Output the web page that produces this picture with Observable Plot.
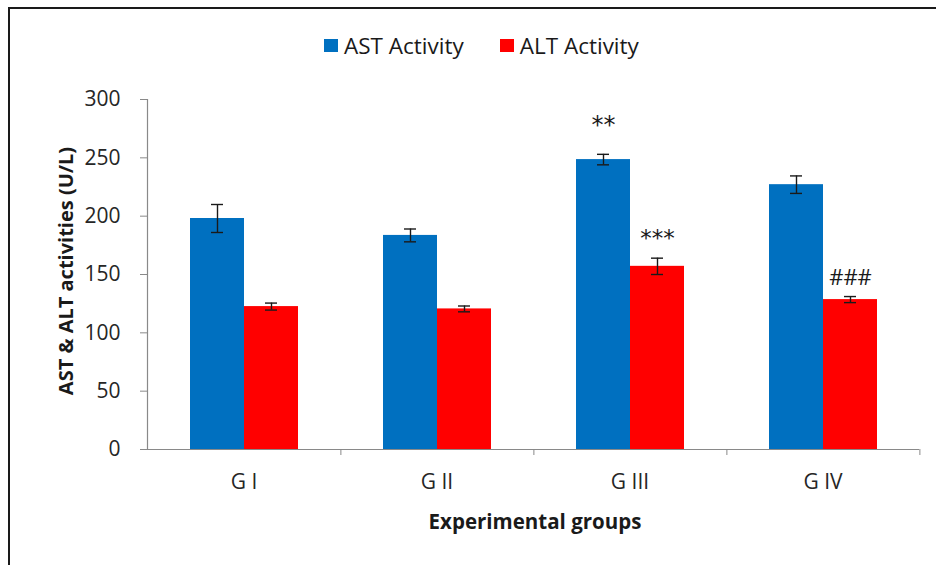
<!DOCTYPE html>
<html>
<head>
<meta charset="utf-8">
<script src="https://cdn.jsdelivr.net/npm/d3@7"></script>
<script src="https://cdn.jsdelivr.net/npm/@observablehq/plot@0.6"></script>
<style>
  html, body { margin: 0; padding: 0; background: #fff; }
  #wrap { position: relative; width: 936px; height: 565px; overflow: hidden; font-family: "Open Sans", sans-serif; }
  #border { position: absolute; left: 8px; top: 7px; width: 1000px; height: 1000px; border-left: 2px solid #1a1a1a; border-top: 2px solid #1a1a1a; box-sizing: border-box; }
  #legend { position: absolute; left: 324px; top: 30px; display: flex; align-items: center; font-size: 22.5px; color: #1a1a1a; white-space: nowrap; }
  .sw { display: inline-block; width: 14px; height: 13px; margin-right: 6px; }
  .item { display: flex; align-items: center; margin-right: 36px; }
  #ytitle { position: absolute; left: 65px; top: 271px; transform: translate(-50%, -50%) rotate(-90deg); font-weight: bold; font-size: 20px; color: #1a1a1a; white-space: nowrap; }
  #xtitle { position: absolute; left: 535px; top: 521px; transform: translate(-50%, -50%); font-weight: bold; font-size: 20.5px; color: #1a1a1a; white-space: nowrap; }
  #chart { position: absolute; left: 0; top: 0; }
</style>
</head>
<body>
<div id="wrap">
  <div id="chart"></div>
  <div id="border"></div>
  <div id="legend"></div>
  <div id="ytitle">AST &amp; ALT activities (U/L)</div>
  <div id="xtitle">Experimental groups</div>
</div>
<script>
const groups = ["G I", "G II", "G III", "G IV"];
const seriesNames = ["AST Activity", "ALT Activity"];
const seriesColors = ["#0070C0", "#FF0000"];
const astValues = [198, 183.5, 248.5, 227];
const astErrors = [12, 5.5, 4.5, 7.5];
const altValues = [122.5, 120.5, 157, 128.5];
const altErrors = [3, 2.5, 7, 2.6];
const yTicks = [0, 50, 100, 150, 200, 250, 300];
const annotGroups = ["G III", "G III", "G IV"];
const annotSeries = ["AST Activity", "ALT Activity", "ALT Activity"];
const annotTexts = ["**", "***", "###"];

const rows = groups.flatMap((g, i) => [
  {group: g, series: seriesNames[0], value: astValues[i], err: astErrors[i]},
  {group: g, series: seriesNames[1], value: altValues[i], err: altErrors[i]}
]);
const annots = annotTexts.map((t, i) => {
  const r = rows.find(d => d.group === annotGroups[i] && d.series === annotSeries[i]);
  return {group: r.group, series: r.series, top: r.value + r.err, text: t};
});
const isStar = d => d.text.startsWith("*");

const W = 936, H = 565, mL = 145, mR = 16, mT = 99, mB = 116;
const step = (W - mL - mR) / groups.length;
const axisGray = "#898989";

const chart = Plot.plot({
  width: W, height: H,
  marginLeft: mL, marginRight: mR, marginTop: mT, marginBottom: mB,
  style: {fontFamily: "'Open Sans', sans-serif", background: "transparent"},
  fx: {domain: groups, padding: 0, label: null},
  x: {domain: seriesNames, paddingInner: 0, paddingOuter: 0.78, axis: null},
  y: {domain: [0, 300], axis: null},
  color: {domain: seriesNames, range: seriesColors},
  marks: [
    Plot.barY(rows, {fx: "group", x: "series", y: "value", fill: "series"}),
    Plot.ruleY([0], {stroke: axisGray, strokeWidth: 1.2}),
    Plot.frame({anchor: "left", stroke: axisGray, strokeWidth: 1.2, facetAnchor: "left"}),
    Plot.axisY({ticks: yTicks, tickSize: 7, tickPadding: 20, fontSize: 21, stroke: axisGray, color: "#262626", label: null, facetAnchor: "left"}),
    Plot.axisFx({anchor: "bottom", tickSize: 0, tickPadding: 25, fontSize: 21, color: "#262626", label: null}),
    Plot.axisFx({anchor: "bottom", tickSize: 6, text: null, dx: step / 2, stroke: axisGray, label: null}),
    Plot.ruleX(rows, {fx: "group", x: "series", y1: d => d.value - d.err, y2: d => d.value + d.err, stroke: "#1a1a1a", strokeWidth: 1.4}),
    Plot.tickY(rows, {fx: "group", x: "series", y: d => d.value - d.err, stroke: "#1a1a1a", strokeWidth: 1.4, insetLeft: 21, insetRight: 21}),
    Plot.tickY(rows, {fx: "group", x: "series", y: d => d.value + d.err, stroke: "#1a1a1a", strokeWidth: 1.4, insetLeft: 21, insetRight: 21}),
    Plot.text(annots.filter(d => isStar(d) && d.series === seriesNames[0]), {fx: "group", x: "series", y: "top", text: "text", lineAnchor: "bottom", dy: -21, fontSize: 24, fontFamily: "'DejaVu Sans', sans-serif", fill: "#1a1a1a"}),
    Plot.text(annots.filter(d => isStar(d) && d.series === seriesNames[1]), {fx: "group", x: "series", y: "top", text: "text", lineAnchor: "bottom", dy: -12, fontSize: 23, fontFamily: "'DejaVu Sans', sans-serif", fill: "#1a1a1a"}),
    Plot.text(annots.filter(d => !isStar(d)), {fx: "group", x: "series", y: "top", text: "text", lineAnchor: "bottom", dy: -12, fontSize: 22, fontFamily: "'Open Sans', sans-serif", fill: "#1a1a1a"})
  ]
});
document.getElementById("chart").appendChild(chart);

const legend = document.getElementById("legend");
seriesNames.forEach((s, i) => {
  const it = document.createElement("span");
  it.className = "item";
  const sw = document.createElement("span");
  sw.className = "sw";
  sw.style.background = seriesColors[i];
  it.appendChild(sw);
  it.appendChild(document.createTextNode(s));
  legend.appendChild(it);
});
</script>
</body>
</html>
